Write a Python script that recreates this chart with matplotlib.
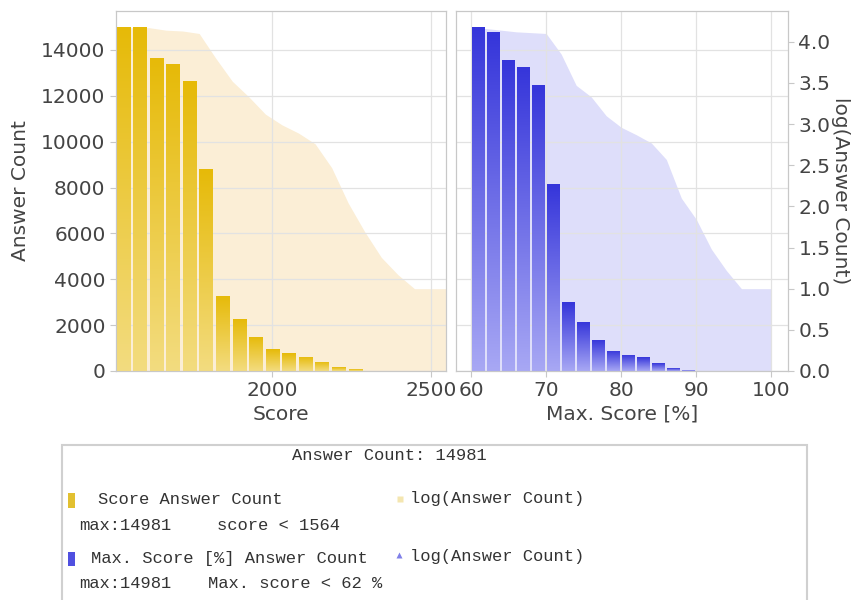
#! /usr/bin/env python3

"""
Answer count histograms by score and by max. score [%], with log(count) area behind.
"""
import numpy as np
import matplotlib
matplotlib.use('Agg')
import matplotlib.pyplot as plt
from matplotlib.colors import LinearSegmentedColormap
from matplotlib.patches import Rectangle

# --- data ---
score_bins = [1512, 1564, 1616, 1668, 1720, 1772, 1824, 1876, 1928, 1980,
              2032, 2084, 2136, 2188, 2240, 2292, 2344, 2396, 2448, 2500]
score_counts = [14981, 14981, 13665, 13374, 12647, 8809, 3271, 2253, 1497, 959,
                770, 625, 407, 160, 73, 20, 0, 0, 0, 0]
score_edges = [1512, 1564, 1616, 1668, 1720, 1772, 1824, 1876, 1928, 1980, 2032,
               2084, 2136, 2188, 2240, 2292, 2344, 2396, 2448, 2500, 2552]
score_log = [4.17, 4.17, 4.17, 4.14, 4.13, 4.10, 3.80, 3.52, 3.33, 3.12, 2.99,
             2.89, 2.76, 2.47, 2.04, 1.69, 1.38, 1.17, 1.0, 1.0, 1.0]

pct_bins = [60, 62, 64, 66, 68, 70, 72, 74, 76, 78,
            80, 82, 84, 86, 88, 90, 92, 94, 96, 98]
pct_counts = [14981, 14770, 13563, 13272, 12473, 8155, 2995, 2152, 1366, 887,
              712, 596, 334, 116, 58, 15, 0, 0, 0, 0]
pct_edges = [60, 62, 64, 66, 68, 70, 72, 74, 76, 78, 80,
             82, 84, 86, 88, 90, 92, 94, 96, 98, 100]
pct_log = [4.16, 4.16, 4.14, 4.12, 4.11, 4.10, 3.85, 3.47, 3.33, 3.10, 2.96,
           2.87, 2.77, 2.57, 2.10, 1.84, 1.48, 1.22, 1.0, 1.0, 1.0]

count_ticks = [0, 2000, 4000, 6000, 8000, 10000, 12000, 14000]
log_ticks = [0.0, 0.5, 1.0, 1.5, 2.0, 2.5, 3.0, 3.5, 4.0]

W, H = 858, 600
GRID = '#e2e2e2'
SPINE = '#c8c8c8'
TXT = '#444444'
FS = 14.5


def gradient_bars(ax, x, heights, width, light, dark):
    cmap = LinearSegmentedColormap.from_list('grad', [light, dark])
    grad = np.linspace(0, 1, 256).reshape(-1, 1)
    bars = ax.bar(x, heights, width=width, align='edge',
                  facecolor='none', edgecolor='none', zorder=2)
    for b in bars:
        if b.get_height() <= 0:
            continue
        x0, y0 = b.get_x(), b.get_y()
        im = ax.imshow(grad, extent=[x0, x0 + b.get_width(), y0, y0 + b.get_height()],
                       origin='lower', aspect='auto', cmap=cmap, zorder=2)
        im.set_clip_path(b)


def style_axes(ax):
    for s in ax.spines.values():
        s.set_color(SPINE)
    ax.tick_params(colors=SPINE, labelcolor=TXT, labelsize=FS, length=4)


def panel(rect, bins, counts, width, edges, logs, light, dark, area, xlim, xticks):
    ax = plt.gcf().add_axes(rect)
    tw = ax.twinx()
    ax.set_zorder(tw.get_zorder() + 1)
    ax.patch.set_visible(False)

    tw.fill_between(edges, 0, logs, color=area, lw=0)
    tw.set_ylim(0, 4.373)

    gradient_bars(ax, bins, counts, width, light, dark)
    ax.set_axisbelow(True)
    ax.grid(True, color=GRID, lw=0.9)
    ax.set_xlim(*xlim)
    ax.set_ylim(0, 15700)
    ax.set_xticks(xticks)
    ax.set_yticks(count_ticks)
    style_axes(ax)
    style_axes(tw)
    return ax, tw


def main():
    fig = plt.figure(figsize=(W / 100, H / 100), dpi=100)

    # left panel: Score
    ax1, tw1 = panel([116 / W, 1 - 371 / H, 330 / W, 360 / H],
                     [b + 1 for b in score_bins], score_counts, 42,
                     score_edges, score_log, '#F3DC80', '#E6BA08', '#FBEED6',
                     (1511, 2547), [2000, 2500])
    tw1.set_yticks([])
    ax1.set_ylabel('Answer Count', fontsize=FS, color=TXT, labelpad=8)
    ax1.set_xlabel('Score', fontsize=FS, color=TXT, labelpad=3)

    # right panel: Max. Score [%]
    ax2, tw2 = panel([456 / W, 1 - 371 / H, 332 / W, 360 / H],
                     [b + 0.1 for b in pct_bins], pct_counts, 1.6,
                     pct_edges, pct_log, '#A8A8F4', '#3535DA', '#DEDEFA',
                     (58.0, 102.2), [60, 70, 80, 90, 100])
    ax2.tick_params(axis='y', length=0, labelleft=False)
    tw2.set_yticks(log_ticks)
    tw2.set_yticklabels([f'{t:.1f}' for t in log_ticks])
    tw2.set_ylabel('log(Answer Count)', fontsize=FS, color=TXT,
                   rotation=270, labelpad=14)
    ax2.set_xlabel('Max. Score [%]', fontsize=FS, color=TXT, labelpad=3)

    # legend box in pixel coordinates
    lg = fig.add_axes([0, 0, 1, 1], zorder=-1)
    lg.set_xlim(0, W)
    lg.set_ylim(H, 0)
    lg.axis('off')
    lg.add_patch(Rectangle((62, 445), 745, 200, facecolor='white',
                           edgecolor='#d0d0d0', lw=1.5))
    mono = dict(family='Liberation Mono', fontsize=12.3, color='#333333', va='center')
    lg.text(389, 455, 'Answer Count: 14981', ha='center', **mono)
    lg.add_patch(Rectangle((68, 493), 7, 15, facecolor='#E2C030', lw=0))
    lg.text(98, 500, 'Score Answer Count', **mono)
    lg.plot([399.5], [499], marker='s', ms=4.5, color='#F4E6B0', mec='none')
    lg.text(410, 499, 'log(Answer Count)', **mono)
    lg.text(79, 526, 'max:14981', **mono)
    lg.text(217, 526, 'score < 1564', **mono)
    lg.add_patch(Rectangle((68, 552), 7, 14, facecolor='#5050E0', lw=0))
    lg.text(91, 558, 'Max. Score [%] Answer Count', **mono)
    lg.plot([399], [555], marker='^', ms=5, color='#8080E8', mec='none')
    lg.text(410, 557, 'log(Answer Count)', **mono)
    lg.text(79, 584, 'max:14981', **mono)
    lg.text(208, 584, 'Max. score < 62 %', **mono)

    fig.savefig('out.png', dpi=100)


if __name__ == '__main__':
    main()
